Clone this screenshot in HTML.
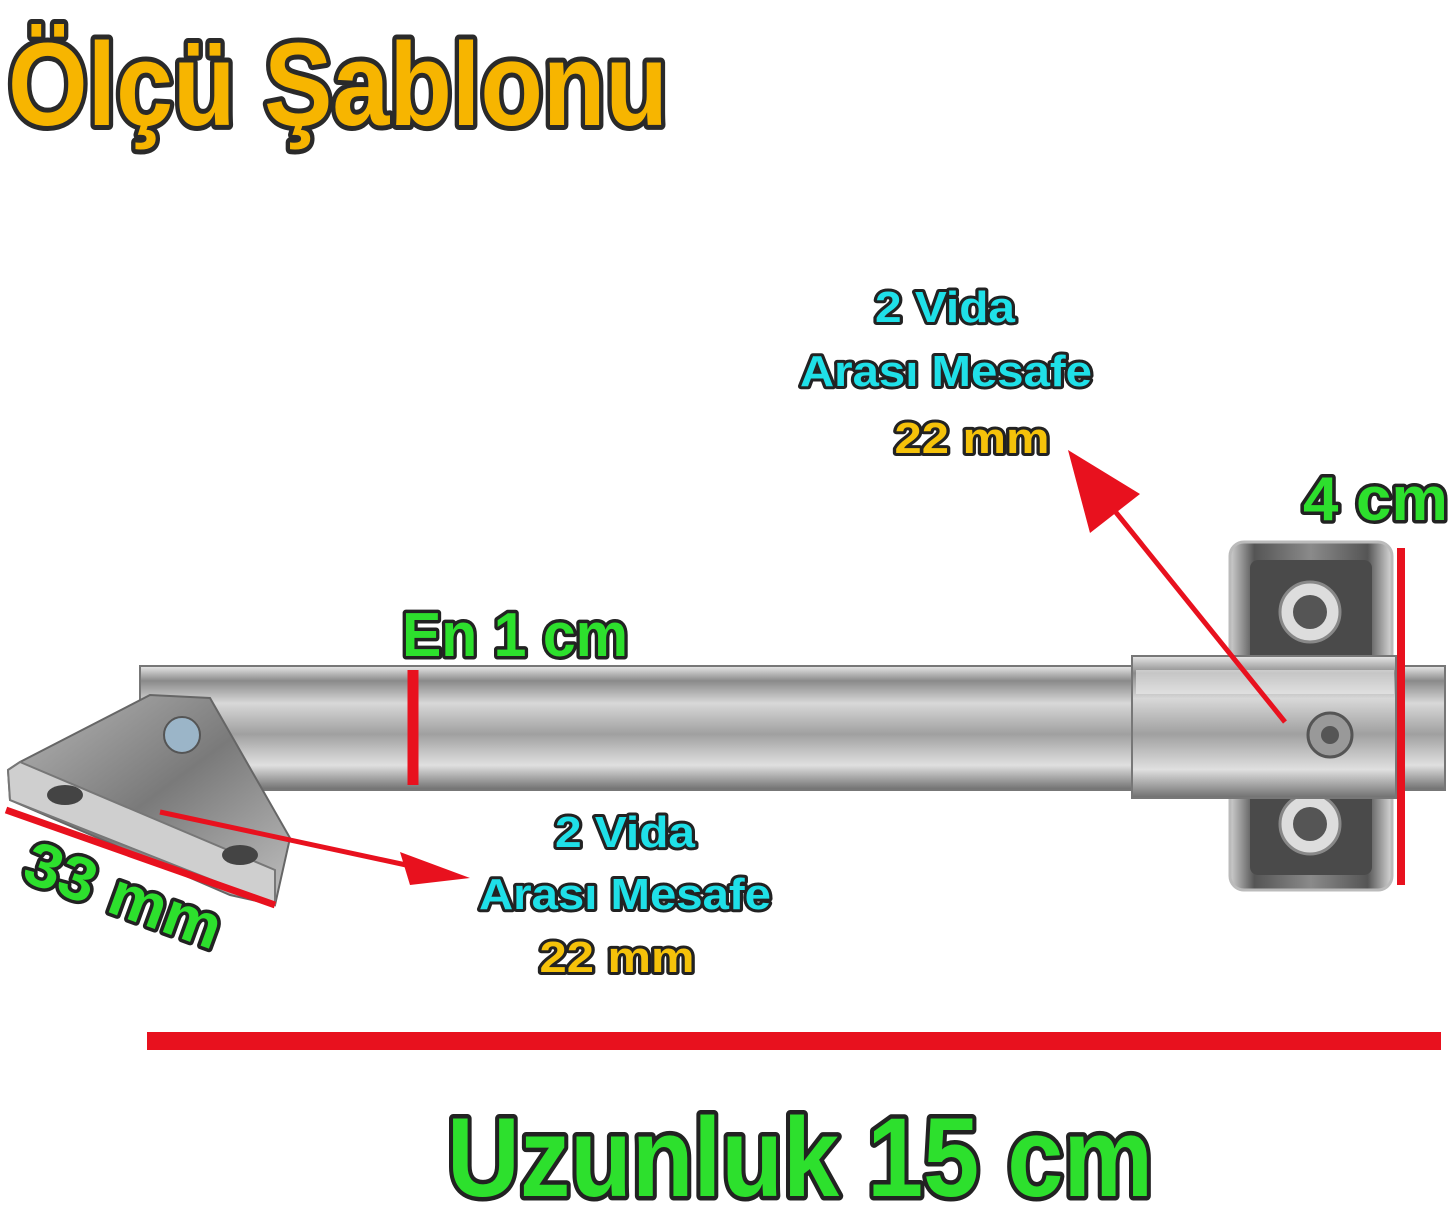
<!DOCTYPE html>
<html><head><meta charset="utf-8"><style>
html,body{margin:0;padding:0;background:#fff;}
svg{display:block;}
text{font-family:"Liberation Sans",sans-serif;font-weight:bold;paint-order:stroke;stroke-linejoin:round;}
</style></head><body>
<svg width="1456" height="1207" viewBox="0 0 1456 1207" xmlns="http://www.w3.org/2000/svg">
<defs>
<linearGradient id="rod" x1="0" y1="0" x2="0" y2="1">
<stop offset="0" stop-color="#e8e8e8"/><stop offset="0.12" stop-color="#8a8a8a"/>
<stop offset="0.3" stop-color="#d8d8d8"/><stop offset="0.55" stop-color="#a0a0a0"/>
<stop offset="0.8" stop-color="#e0e0e0"/><stop offset="1" stop-color="#6f6f6f"/>
</linearGradient>
<linearGradient id="plate" x1="0" y1="0" x2="1" y2="0">
<stop offset="0" stop-color="#d0d0d0"/><stop offset="0.15" stop-color="#555"/>
<stop offset="0.5" stop-color="#8a8a8a"/><stop offset="0.85" stop-color="#555"/><stop offset="1" stop-color="#d8d8d8"/>
</linearGradient>
<linearGradient id="tri" x1="0" y1="0" x2="1" y2="1">
<stop offset="0" stop-color="#b8b8b8"/><stop offset="0.5" stop-color="#7a7a7a"/><stop offset="1" stop-color="#c0c0c0"/>
</linearGradient>
<marker id="ah" markerWidth="8" markerHeight="8" refX="2" refY="4" orient="auto" markerUnits="strokeWidth">
<path d="M0,0 L8,4 L0,8 Z" fill="#e8111e"/></marker>
</defs>

<!-- title -->
<text x="8" y="125" font-size="118" fill="#f7b500" stroke="#2a2a2a" stroke-width="10" textLength="660" lengthAdjust="spacingAndGlyphs">Ölçü Şablonu</text>

<!-- right bracket plate -->
<rect x="1230" y="542" width="162" height="348" rx="14" fill="url(#plate)" stroke="#bbb" stroke-width="3"/>
<rect x="1250" y="560" width="122" height="105" rx="8" fill="#4a4a4a"/>
<rect x="1250" y="775" width="122" height="100" rx="8" fill="#4a4a4a"/>
<circle cx="1310" cy="612" r="30" fill="#ddd" stroke="#888" stroke-width="3"/>
<circle cx="1310" cy="612" r="17" fill="#555"/>
<circle cx="1310" cy="824" r="30" fill="#ddd" stroke="#888" stroke-width="3"/>
<circle cx="1310" cy="824" r="17" fill="#555"/>

<!-- rod -->
<rect x="140" y="666" width="1305" height="124" fill="url(#rod)" stroke="#777" stroke-width="2"/>
<rect x="1132" y="656" width="264" height="142" fill="url(#rod)" stroke="#777" stroke-width="2"/>
<rect x="1136" y="670" width="258" height="24" fill="#efefef" opacity="0.6"/>
<circle cx="1330" cy="735" r="22" fill="#999" stroke="#555" stroke-width="3"/>
<circle cx="1330" cy="735" r="9" fill="#555"/>

<!-- left triangle bracket -->
<polygon points="8,770 20,762 150,695 210,698 290,838 275,905 230,895 10,800" fill="url(#tri)" stroke="#666" stroke-width="2"/>
<polygon points="8,770 20,762 275,870 275,905 10,800" fill="#cfcfcf" stroke="#777" stroke-width="2"/>
<circle cx="182" cy="735" r="18" fill="#9bb5c8" stroke="#555" stroke-width="2"/>
<ellipse cx="65" cy="795" rx="18" ry="10" fill="#444"/>
<ellipse cx="240" cy="855" rx="18" ry="10" fill="#444"/>

<!-- red lines -->
<line x1="413" y1="670" x2="413" y2="785" stroke="#e8111e" stroke-width="11"/>
<line x1="1401" y1="548" x2="1401" y2="885" stroke="#e8111e" stroke-width="8"/>
<rect x="147" y="1032" width="1294" height="18" fill="#e8111e"/>
<line x1="6" y1="810" x2="275" y2="905" stroke="#e8111e" stroke-width="7"/>
<line x1="160" y1="812" x2="420" y2="868" stroke="#e8111e" stroke-width="5"/>
<polygon points="470,878 400,852 410,885" fill="#e8111e"/>
<line x1="1285" y1="722" x2="1110" y2="505" stroke="#e8111e" stroke-width="5"/>
<polygon points="1068,450 1090,533 1140,494" fill="#e8111e"/>

<!-- labels -->
<g font-size="44" stroke="#222" stroke-width="6" text-anchor="middle">
<text x="945" y="322" fill="#1fe0e8" textLength="140" lengthAdjust="spacingAndGlyphs">2 Vida</text>
<text x="946" y="386" fill="#1fe0e8" textLength="292" lengthAdjust="spacingAndGlyphs">Arası Mesafe</text>
<text x="972" y="453" fill="#f5c20a" textLength="155" lengthAdjust="spacingAndGlyphs">22 mm</text>
<text x="625" y="847" fill="#1fe0e8" textLength="140" lengthAdjust="spacingAndGlyphs">2 Vida</text>
<text x="625" y="909" fill="#1fe0e8" textLength="292" lengthAdjust="spacingAndGlyphs">Arası Mesafe</text>
<text x="617" y="972" fill="#f5c20a" textLength="155" lengthAdjust="spacingAndGlyphs">22 mm</text>
</g>
<g font-size="62" fill="#2de02d" stroke="#222" stroke-width="7">
<text x="1303" y="520" textLength="145" lengthAdjust="spacingAndGlyphs">4 cm</text>
<text x="402" y="656" textLength="226" lengthAdjust="spacingAndGlyphs">En 1 cm</text>
<text x="20" y="880" transform="rotate(20 20 880)" textLength="205" lengthAdjust="spacingAndGlyphs">33 mm</text>
</g>
<text x="447" y="1196" font-size="112" fill="#2de02d" stroke="#222" stroke-width="9" textLength="706" lengthAdjust="spacingAndGlyphs">Uzunluk 15 cm</text>
</svg>
</body></html>
